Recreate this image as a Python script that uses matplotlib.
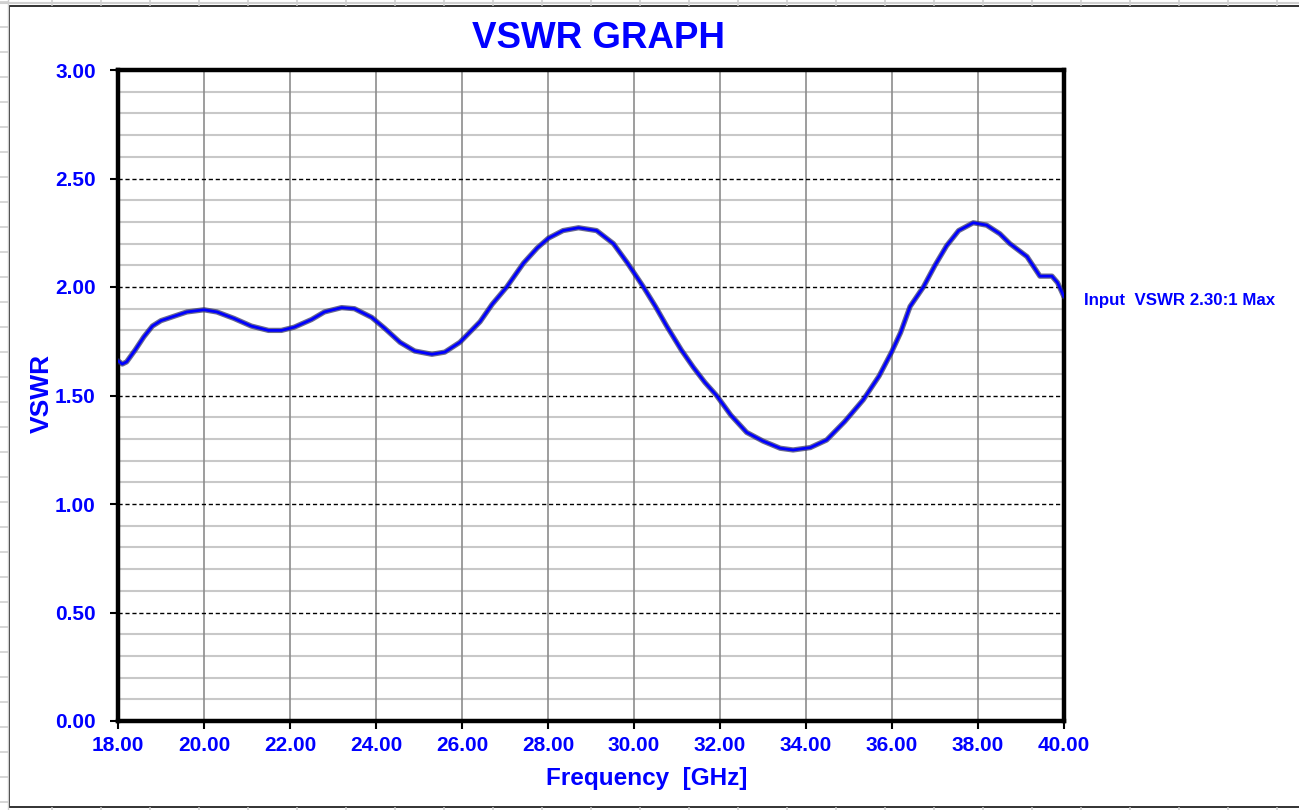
import matplotlib
matplotlib.use("Agg")
import matplotlib.pyplot as plt
from matplotlib.lines import Line2D
from matplotlib.patches import Rectangle
import matplotlib.patheffects as pe
import numpy as np

plt.rcParams['font.family'] = ['Liberation Sans', 'DejaVu Sans']

freq_ghz = [18.00, 18.10, 18.20, 18.40, 18.60, 18.80, 19.00, 19.30, 19.60, 20.00,
            20.30, 20.70, 21.10, 21.50, 21.80, 22.10, 22.50, 22.80, 23.20, 23.50,
            23.90, 24.20, 24.56, 24.90, 25.30, 25.60, 25.95, 26.42, 26.70, 27.04,
            27.43, 27.75, 28.01, 28.35, 28.71, 29.13, 29.52, 29.85, 30.22, 30.50,
            30.76, 31.10, 31.38, 31.65, 31.92, 32.25, 32.62, 33.00, 33.40, 33.70,
            34.10, 34.48, 34.90, 35.33, 35.70, 35.99, 36.20, 36.42, 36.73, 37.00,
            37.27, 37.55, 37.89, 38.20, 38.51, 38.74, 39.14, 39.44, 39.72, 39.85,
            40.00]
vswr = [1.66, 1.645, 1.655, 1.71, 1.77, 1.82, 1.845, 1.865, 1.885, 1.895,
        1.885, 1.855, 1.82, 1.80, 1.80, 1.815, 1.85, 1.885, 1.905, 1.90,
        1.86, 1.81, 1.745, 1.705, 1.69, 1.70, 1.745, 1.84, 1.92, 2.00,
        2.11, 2.18, 2.225, 2.26, 2.273, 2.26, 2.20, 2.11, 2.00, 1.91,
        1.82, 1.71, 1.63, 1.56, 1.50, 1.41, 1.33, 1.29, 1.257, 1.249,
        1.26, 1.295, 1.38, 1.48, 1.59, 1.70, 1.79, 1.91, 2.00, 2.10,
        2.19, 2.26, 2.296, 2.285, 2.245, 2.20, 2.14, 2.05, 2.05, 2.02,
        1.955]

x_ticks = [18, 20, 22, 24, 26, 28, 30, 32, 34, 36, 38, 40]
y_ticks = [0.0, 0.5, 1.0, 1.5, 2.0, 2.5, 3.0]
title = "VSWR GRAPH"
x_label = "Frequency  [GHz]"
y_label = "VSWR"
note = "Input  VSWR 2.30:1 Max"

W, H = 1299, 810
fig = plt.figure(figsize=(W / 100, H / 100), dpi=100)
fig.patch.set_facecolor('white')

# spreadsheet cell lines outside the chart area
cell = '#d0d0d0'
for yy in range(2, H, 25):
    fig.add_artist(Line2D([0, 8 / W], [1 - yy / H, 1 - yy / H], color=cell, lw=1.2,
                          transform=fig.transFigure))
fig.add_artist(Line2D([0, 1], [1 - 3 / H, 1 - 3 / H], color=cell, lw=1.5,
                      transform=fig.transFigure))
for xx in range(52, W, 49):
    fig.add_artist(Line2D([xx / W, xx / W], [1 - 5 / H, 1], color=cell, lw=1.2,
                          transform=fig.transFigure))
    fig.add_artist(Line2D([xx / W, xx / W], [0, 2 / H], color=cell, lw=1.2,
                          transform=fig.transFigure))
fig.add_artist(Line2D([8 / W, 8 / W], [0, 1], color=cell, lw=1.0,
                      transform=fig.transFigure))
# chart area frame
fig.add_artist(Rectangle((9 / W, 3 / H), 1.2, 1 - 9 / H, fill=False, ec='#222222',
                         lw=1.3, transform=fig.transFigure))

ax = fig.add_axes([118 / W, 89 / H, 946 / W, 651 / H])
ax.set_xlim(18, 40)
ax.set_ylim(0, 3)

# minor horizontal grid every 0.1
for v in np.arange(0.1, 3.0, 0.1):
    if abs(v * 2 - round(v * 2)) > 1e-6:
        ax.axhline(v, color='#c8c8c8', lw=1.5, zorder=1)
for v in y_ticks[1:-1]:
    ax.axhline(v, color='black', lw=1.0, ls=(0, (3, 2)), zorder=2)
for f in x_ticks[1:-1]:
    ax.axvline(f, color='#8c8c8c', lw=1.2, zorder=1.5)

ax.plot(freq_ghz, vswr, color='#0000ff', lw=2.0, zorder=5, solid_capstyle='round',
        solid_joinstyle='round',
        path_effects=[pe.Stroke(linewidth=3.8, foreground='#2b2b60', alpha=0.7),
                      pe.Normal()])

for s in ax.spines.values():
    s.set_linewidth(3.2)
    s.set_color('black')

ax.set_xticks(x_ticks)
ax.set_yticks(y_ticks)
ax.set_xticklabels([f"{t:.2f}" for t in x_ticks])
ax.set_yticklabels([f"{t:.2f}" for t in y_ticks])
ax.tick_params(axis='both', direction='out', length=6, width=1.5, color='black',
               labelcolor='#0000ff', labelsize=15)
ax.tick_params(axis='y', pad=10)
ax.tick_params(axis='x', pad=5)
for lab in ax.get_xticklabels() + ax.get_yticklabels():
    lab.set_fontweight('bold')

fig.text(598 / W, 1 - 39 / H, title, ha='center', va='center', color='#0000ff',
         fontsize=26.5, fontweight='bold')
fig.text(647 / W, 1 - 779 / H, x_label, ha='center', va='center', color='#0000ff',
         fontsize=17.5, fontweight='bold')
fig.text(42 / W, 1 - 393 / H, y_label, ha='center', va='center', color='#0000ff',
         fontsize=19, fontweight='bold', rotation=90)
fig.text(1084 / W, 1 - 300 / H, note, ha='left', va='center', color='#0000ff',
         fontsize=12.2, fontweight='bold')

fig.savefig('out.png', dpi=100, facecolor='white')
